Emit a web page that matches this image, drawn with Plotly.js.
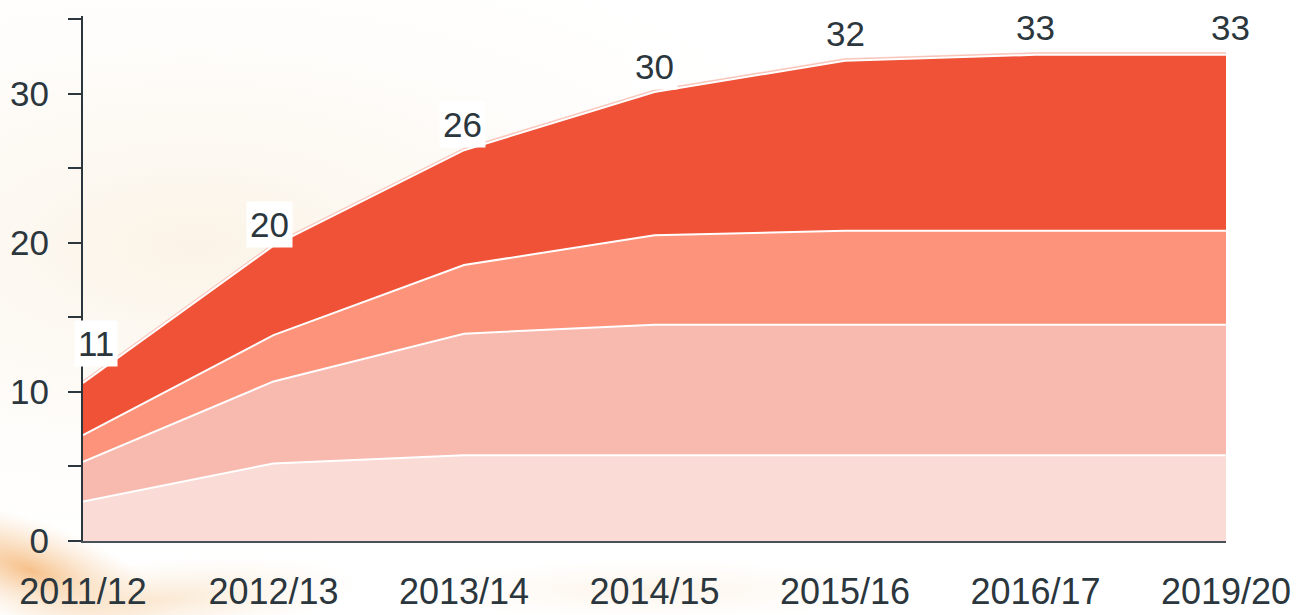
<!DOCTYPE html>
<html>
<head>
<meta charset="utf-8">
<script src="https://cdn.plot.ly/plotly-3.0.1.min.js"></script>
<style>
html,body{margin:0;padding:0;background:#ffffff;}
#chart{width:1298px;height:615px;}
</style>
</head>
<body>
<div id="chart"></div>
<script>
// Categories (financial years)
const years = ['2011/12', '2012/13', '2013/14', '2014/15', '2015/16', '2016/17', '2019/20'];
// Stacked series values
const series1 = [2.65, 5.2, 5.75, 5.75, 5.75, 5.75, 5.75];
const series2 = [2.65, 5.5, 8.15, 8.75, 8.75, 8.75, 8.75];
const series3 = [1.8, 3.1, 4.6, 6.0, 6.3, 6.3, 6.3];
const series4 = [3.5, 6.0, 7.7, 9.6, 11.4, 11.8, 11.8];
const series5 = [0.15, 0.15, 0.15, 0.15, 0.15, 0.15, 0.15];
// Y tick labels
const yTickVals = [0, 5, 10, 15, 20, 25, 30, 35];
const yTickText = ['0', '', '10', '', '20', '', '30', ''];

const colors = ['#fadbd6', '#f8b9af', '#fd937a', '#f05237', '#f9c3b8'];
const all = [series1, series2, series3, series4, series5];

const traces = all.map((vals, i) => ({
  type: 'scatter',
  mode: 'lines',
  x: years,
  y: vals,
  stackgroup: 'one',
  fillcolor: colors[i],
  line: {color: i === 4 ? colors[4] : '#ffffff', width: i === 4 ? 0.5 : 2, shape: 'linear'},
  hoverinfo: 'skip',
  showlegend: false
}));

const totals = years.map((_, j) => series1[j] + series2[j] + series3[j] + series4[j]);
const shifts = [[13, 39], [-4, 21], [-2, 26], [0, 26], [0, 27], [0, 27], [4, 27]];
const textColor = '#2b363d';

const annotations = years.map((y, j) => ({
  x: y, y: totals[j], xref: 'x', yref: 'y',
  text: String(Math.round(totals[j])),
  showarrow: false,
  xshift: shifts[j][0], yshift: shifts[j][1],
  font: {family: 'Liberation Sans, Arial, sans-serif', size: 35, color: textColor},
  bgcolor: '#ffffff', borderpad: 3
}));

const bgSvg = `<svg xmlns="http://www.w3.org/2000/svg" width="1298" height="615" viewBox="0 0 1298 615">
<defs>
<radialGradient id="g1" cx="0.15" cy="0.4" r="0.6"><stop offset="0" stop-color="#fbf3e6"/><stop offset="1" stop-color="#ffffff" stop-opacity="0"/></radialGradient>
<radialGradient id="g2" cx="0.5" cy="0.5" r="0.5"><stop offset="0" stop-color="#f5b676" stop-opacity="0.85"/><stop offset="1" stop-color="#f8d2a8" stop-opacity="0"/></radialGradient>
<radialGradient id="g3" cx="0.5" cy="0.5" r="0.5"><stop offset="0" stop-color="#fae3c8" stop-opacity="0.8"/><stop offset="1" stop-color="#fbeedc" stop-opacity="0"/></radialGradient>
</defs>
<rect width="1298" height="615" fill="#ffffff"/>
<rect width="1298" height="615" fill="url(#g1)"/>
<ellipse cx="30" cy="570" rx="150" ry="50" transform="rotate(20 30 570)" fill="url(#g2)"/>
<ellipse cx="160" cy="600" rx="200" ry="40" transform="rotate(-5 160 600)" fill="url(#g3)"/>
<ellipse cx="650" cy="590" rx="250" ry="30" fill="url(#g3)" opacity="0.5"/>
</svg>`;

const layout = {
  width: 1298, height: 615,
  margin: {l: 83, r: 72, t: 16, b: 74, pad: 0},
  paper_bgcolor: '#ffffff',
  plot_bgcolor: 'rgba(0,0,0,0)',
  showlegend: false,
  font: {family: 'Liberation Sans, Arial, sans-serif', size: 36, color: textColor},
  images: [{
    source: 'data:image/svg+xml;charset=utf-8,' + encodeURIComponent(bgSvg),
    xref: 'paper', yref: 'paper', x: -83/1143, y: 1 + 16/525,
    sizex: 1298/1143, sizey: 615/525, sizing: 'stretch', layer: 'below',
    xanchor: 'left', yanchor: 'top'
  }],
  xaxis: {
    type: 'category',
    range: [0, 6],
    showgrid: false, zeroline: false,
    showline: true, linecolor: '#4a5257', linewidth: 2,
    ticks: '', ticklabelstandoff: 18,
    tickfont: {size: 36, color: textColor},
    fixedrange: true
  },
  yaxis: {
    range: [0, 35.2],
    tickvals: yTickVals, ticktext: yTickText,
    showgrid: false, zeroline: false,
    showline: true, linecolor: '#2b363d', linewidth: 2,
    ticks: 'outside', ticklen: 13, tickwidth: 2, tickcolor: '#2b363d',
    ticklabelstandoff: 12,
    tickfont: {size: 35, color: textColor},
    fixedrange: true
  },
  annotations: annotations
};

Plotly.newPlot('chart', traces, layout, {displayModeBar: false, staticPlot: true});
</script>
</body>
</html>
